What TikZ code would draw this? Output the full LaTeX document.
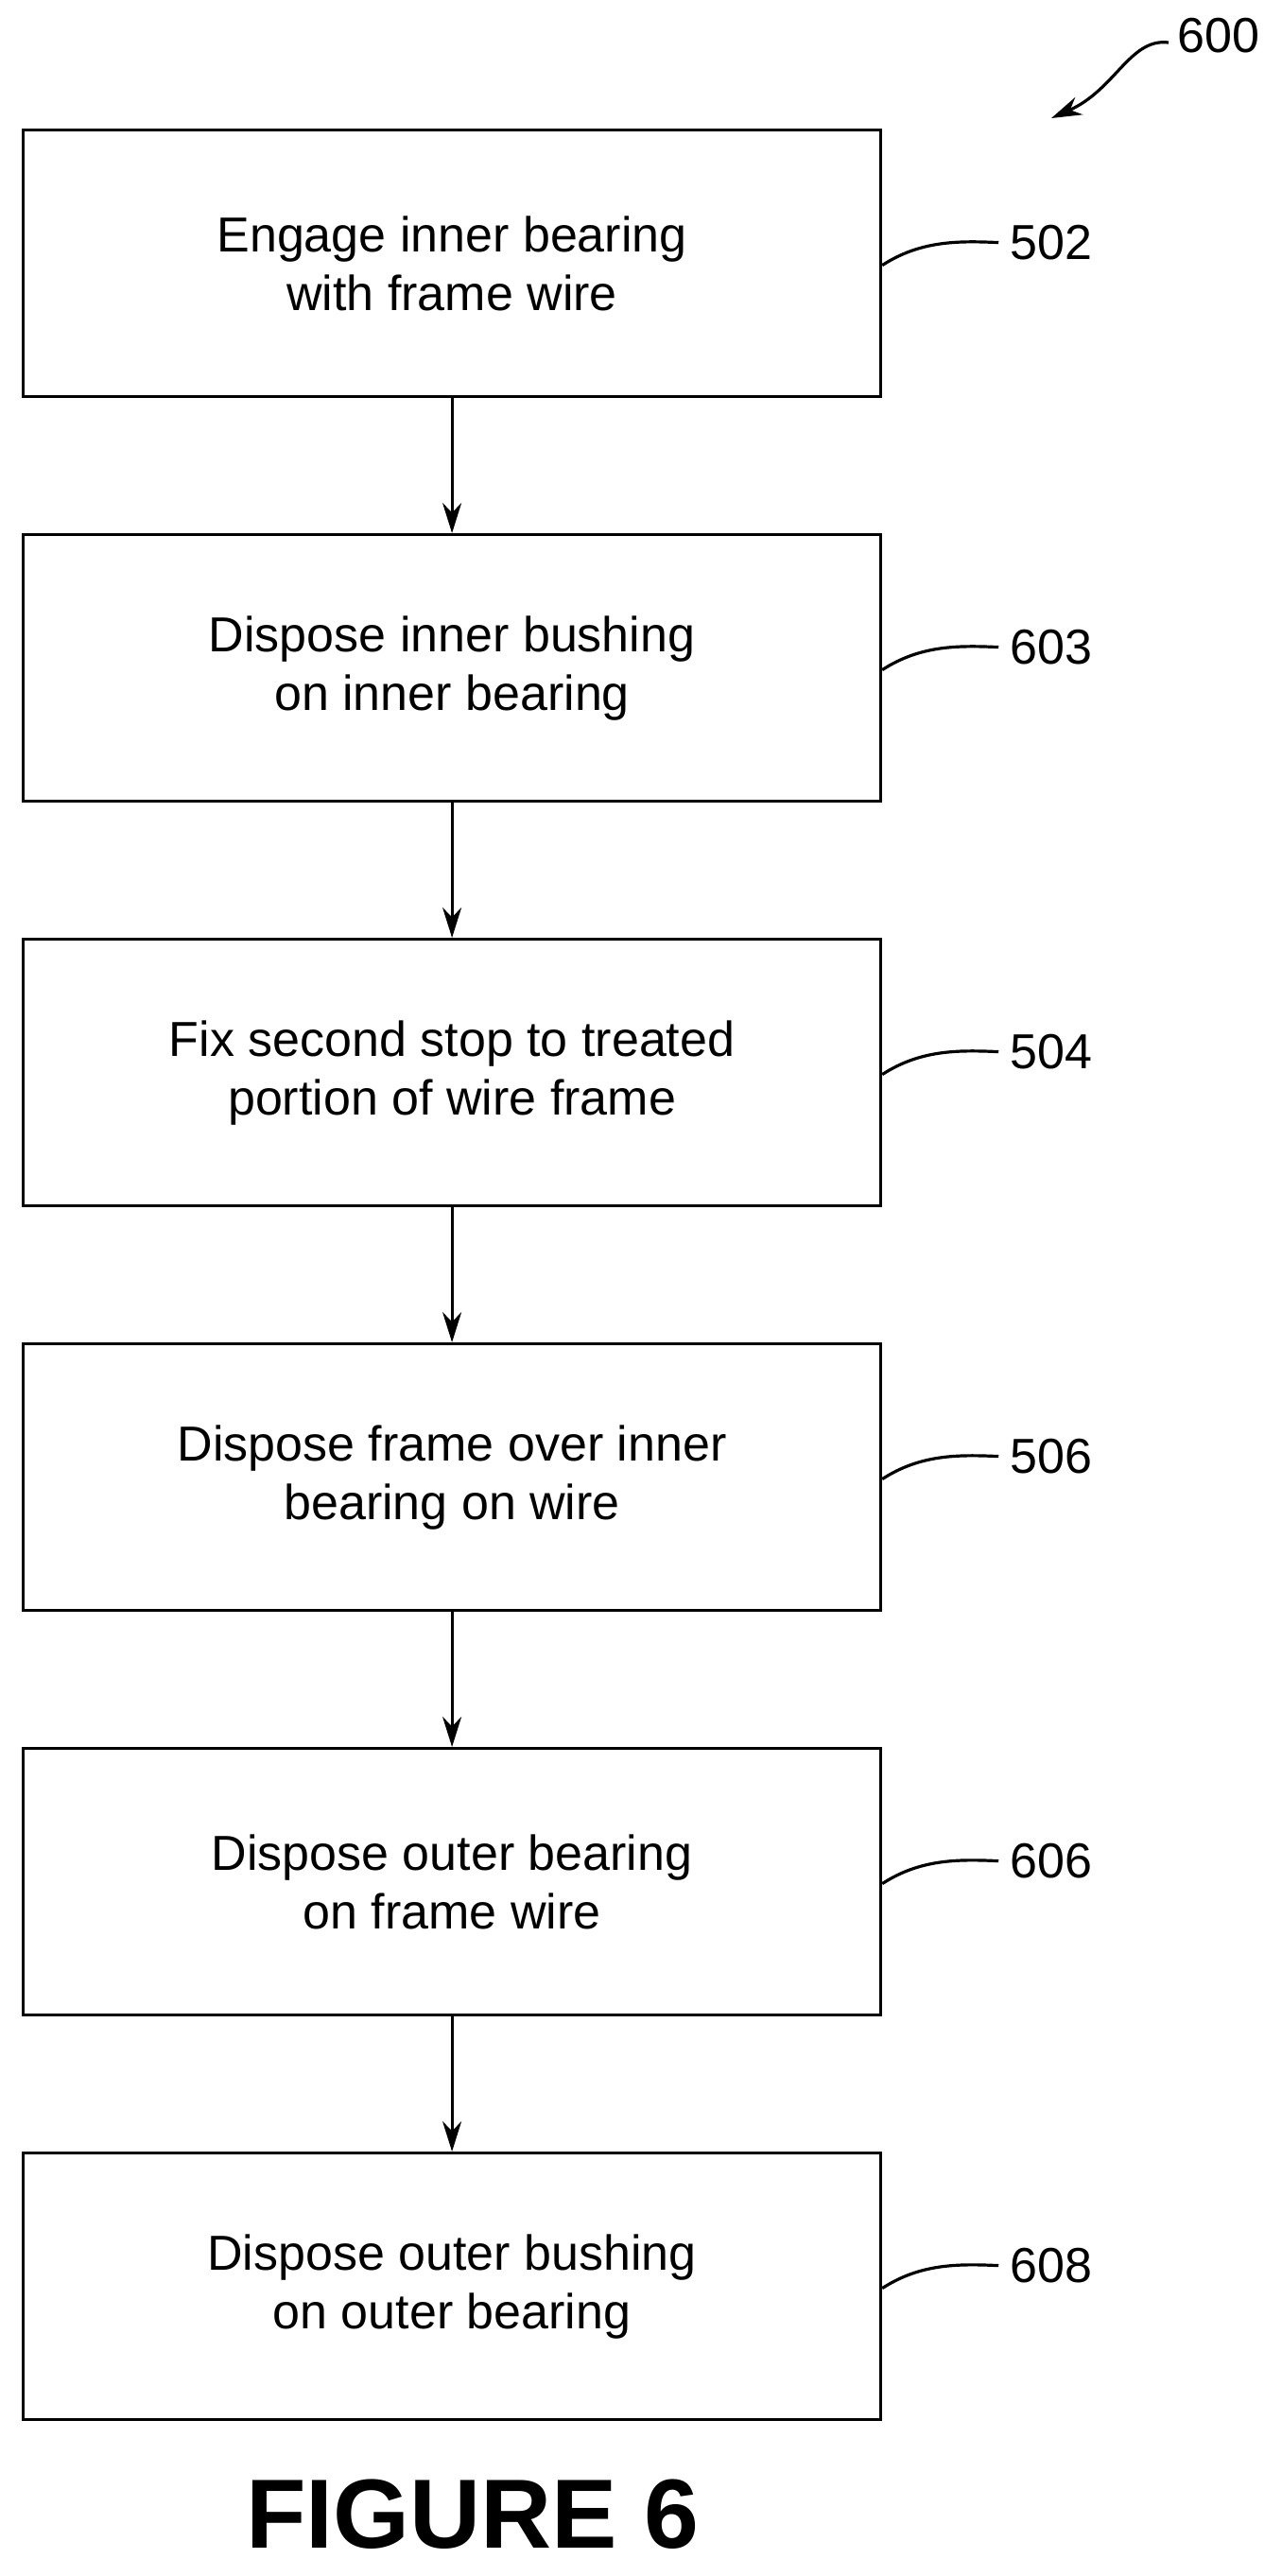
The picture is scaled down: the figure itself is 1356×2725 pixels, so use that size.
\documentclass[tikz,border=0pt]{standalone}
\usepackage{fontspec}
\setmainfont{Liberation Sans}
\usetikzlibrary{arrows.meta}
\begin{document}
\begin{tikzpicture}[x=1pt,y=-1pt,
  box/.style={draw,line width=3.2pt,minimum width=907pt,minimum height=282pt,anchor=north west,align=center,font=\fontsize{52}{62}\selectfont,inner sep=0pt},
  lab/.style={font=\fontsize{52}{62}\selectfont,anchor=west,inner sep=0pt},
  lead/.style={line width=3.2pt},
  arr/.style={line width=3.2pt,-{Stealth[length=32pt,width=20pt]}}]
\useasboundingbox (0,0) rectangle (1356,2725);
\node[box] (b1) at (23,136) {Engage inner bearing\\with frame wire};
\node[box] (b2) at (23,564) {Dispose inner bushing\\on inner bearing};
\node[box] (b3) at (23,992) {Fix second stop to treated\\portion of wire frame};
\node[box] (b4) at (23,1420) {Dispose frame over inner\\bearing on wire};
\node[box] (b5) at (23,1848) {Dispose outer bearing\\on frame wire};
\node[box] (b6) at (23,2276) {Dispose outer bushing\\on outer bearing};
\foreach \a/\b in {b1/b2,b2/b3,b3/b4,b4/b5,b5/b6} \draw[arr] (\a.south) -- (\b.north);
\foreach \n/\t in {b1/502,b2/603,b3/504,b4/506,b5/606,b6/608}{
  \node[lab] (l\n) at ([xshift=135pt,yshift=22pt]\n.east) {\t};
  \draw[lead] ([yshift=-2pt]\n.east) .. controls ([xshift=40pt,yshift=24pt]\n.east) and ([xshift=80pt,yshift=24pt]\n.east) .. ([xshift=-12pt]l\n.west);
}
\node[font=\fontsize{52}{62}\selectfont,anchor=west,inner sep=0pt] (l600) at (1245,38) {600};
\coordinate (a0) at (1236,45);
\coordinate (a1) at (1112,125);
\draw[arr] (a0) .. controls (1195,40) and (1180,95) .. (a1);
\node[font=\bfseries\fontsize{104}{116}\selectfont,inner sep=0pt] (fig) at (500,2660) {FIGURE 6};
\end{tikzpicture}
\end{document}
